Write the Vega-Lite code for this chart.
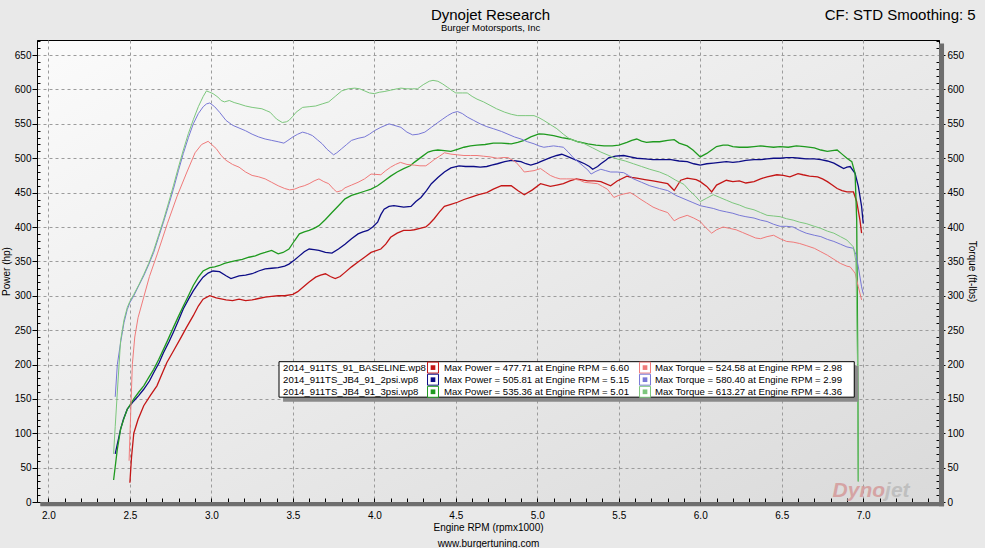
{
"$schema":"https://vega.github.io/schema/vega-lite/v6.json",
"width":902,"height":462,
"autosize":"none",
"padding":{"left":37,"top":40,"right":46,"bottom":46},
"background":"#e9e9e9",
"config":{"view":{"stroke":"#000","strokeWidth":1,"fill":{"gradient":"linear","x1":0,"y1":0,"x2":1,"y2":1,"stops":[{"offset":0,"color":"#fbfbfb"},{"offset":1,"color":"#dadada"}]}},"font":"Liberation Sans"},
"datasets":{
"legend":[
{"slot":1,"run":"BASELINE","file":"2014_911TS_91_BASELINE.wp8","powerText":"Max Power = 477.71 at Engine RPM = 6.60","torqueText":"Max Torque = 524.58 at Engine RPM = 2.98"},
{"slot":2,"run":"2psi","file":"2014_911TS_JB4_91_2psi.wp8","powerText":"Max Power = 505.81 at Engine RPM = 5.15","torqueText":"Max Torque = 580.40 at Engine RPM = 2.99"},
{"slot":3,"run":"3psi","file":"2014_911TS_JB4_91_3psi.wp8","powerText":"Max Power = 535.36 at Engine RPM = 5.01","torqueText":"Max Torque = 613.27 at Engine RPM = 4.36"}
],
"headings":[
{"label":"Dynojet Research","part":"title"},
{"label":"Burger Motorsports, Inc","part":"subtitle"},
{"label":"CF: STD Smoothing: 5","part":"corner"}
],
"curves":[
{"run":"BASELINE","measure":"Power","rpm":2.50,"value":28},{"run":"BASELINE","measure":"Power","rpm":2.51,"value":65},{"run":"BASELINE","measure":"Power","rpm":2.524,"value":100},{"run":"BASELINE","measure":"Power","rpm":2.55,"value":120},{"run":"BASELINE","measure":"Power","rpm":2.585,"value":140},{"run":"BASELINE","measure":"Power","rpm":2.626,"value":155},{"run":"BASELINE","measure":"Power","rpm":2.666,"value":169},{"run":"BASELINE","measure":"Power","rpm":2.70,"value":188},{"run":"BASELINE","measure":"Power","rpm":2.727,"value":203},{"run":"BASELINE","measure":"Power","rpm":2.768,"value":220},{"run":"BASELINE","measure":"Power","rpm":2.808,"value":237},{"run":"BASELINE","measure":"Power","rpm":2.85,"value":255},{"run":"BASELINE","measure":"Power","rpm":2.889,"value":271},{"run":"BASELINE","measure":"Power","rpm":2.92,"value":285},{"run":"BASELINE","measure":"Power","rpm":2.949,"value":295},{"run":"BASELINE","measure":"Power","rpm":2.99,"value":300},{"run":"BASELINE","measure":"Power","rpm":3.03,"value":297},{"run":"BASELINE","measure":"Power","rpm":3.09,"value":294},{"run":"BASELINE","measure":"Power","rpm":3.13,"value":293},{"run":"BASELINE","measure":"Power","rpm":3.17,"value":295},{"run":"BASELINE","measure":"Power","rpm":3.21,"value":293},{"run":"BASELINE","measure":"Power","rpm":3.25,"value":294},{"run":"BASELINE","measure":"Power","rpm":3.29,"value":296},{"run":"BASELINE","measure":"Power","rpm":3.33,"value":298},{"run":"BASELINE","measure":"Power","rpm":3.37,"value":299},{"run":"BASELINE","measure":"Power","rpm":3.41,"value":300},{"run":"BASELINE","measure":"Power","rpm":3.45,"value":300},{"run":"BASELINE","measure":"Power","rpm":3.50,"value":302},{"run":"BASELINE","measure":"Power","rpm":3.53,"value":306},{"run":"BASELINE","measure":"Power","rpm":3.56,"value":312},{"run":"BASELINE","measure":"Power","rpm":3.60,"value":320},{"run":"BASELINE","measure":"Power","rpm":3.64,"value":327},{"run":"BASELINE","measure":"Power","rpm":3.67,"value":330},{"run":"BASELINE","measure":"Power","rpm":3.70,"value":332},{"run":"BASELINE","measure":"Power","rpm":3.73,"value":328},{"run":"BASELINE","measure":"Power","rpm":3.76,"value":325},{"run":"BASELINE","measure":"Power","rpm":3.79,"value":328},{"run":"BASELINE","measure":"Power","rpm":3.82,"value":334},{"run":"BASELINE","measure":"Power","rpm":3.86,"value":342},{"run":"BASELINE","measure":"Power","rpm":3.90,"value":349},{"run":"BASELINE","measure":"Power","rpm":3.94,"value":356},{"run":"BASELINE","measure":"Power","rpm":3.98,"value":363},{"run":"BASELINE","measure":"Power","rpm":4.04,"value":368},{"run":"BASELINE","measure":"Power","rpm":4.07,"value":375},{"run":"BASELINE","measure":"Power","rpm":4.10,"value":385},{"run":"BASELINE","measure":"Power","rpm":4.14,"value":391},{"run":"BASELINE","measure":"Power","rpm":4.18,"value":395},{"run":"BASELINE","measure":"Power","rpm":4.22,"value":395},{"run":"BASELINE","measure":"Power","rpm":4.245,"value":396},{"run":"BASELINE","measure":"Power","rpm":4.28,"value":398},{"run":"BASELINE","measure":"Power","rpm":4.316,"value":400},{"run":"BASELINE","measure":"Power","rpm":4.34,"value":405},{"run":"BASELINE","measure":"Power","rpm":4.367,"value":412},{"run":"BASELINE","measure":"Power","rpm":4.40,"value":422},{"run":"BASELINE","measure":"Power","rpm":4.43,"value":430},{"run":"BASELINE","measure":"Power","rpm":4.47,"value":433},{"run":"BASELINE","measure":"Power","rpm":4.51,"value":436},{"run":"BASELINE","measure":"Power","rpm":4.55,"value":440},{"run":"BASELINE","measure":"Power","rpm":4.59,"value":443},{"run":"BASELINE","measure":"Power","rpm":4.64,"value":447},{"run":"BASELINE","measure":"Power","rpm":4.69,"value":450},{"run":"BASELINE","measure":"Power","rpm":4.73,"value":455},{"run":"BASELINE","measure":"Power","rpm":4.78,"value":460},{"run":"BASELINE","measure":"Power","rpm":4.84,"value":460},{"run":"BASELINE","measure":"Power","rpm":4.88,"value":453},{"run":"BASELINE","measure":"Power","rpm":4.92,"value":447},{"run":"BASELINE","measure":"Power","rpm":4.97,"value":454},{"run":"BASELINE","measure":"Power","rpm":5.02,"value":463},{"run":"BASELINE","measure":"Power","rpm":5.08,"value":459},{"run":"BASELINE","measure":"Power","rpm":5.12,"value":461},{"run":"BASELINE","measure":"Power","rpm":5.16,"value":463},{"run":"BASELINE","measure":"Power","rpm":5.20,"value":467},{"run":"BASELINE","measure":"Power","rpm":5.24,"value":470},{"run":"BASELINE","measure":"Power","rpm":5.31,"value":467},{"run":"BASELINE","measure":"Power","rpm":5.35,"value":467},{"run":"BASELINE","measure":"Power","rpm":5.39,"value":466},{"run":"BASELINE","measure":"Power","rpm":5.45,"value":460},{"run":"BASELINE","measure":"Power","rpm":5.49,"value":467},{"run":"BASELINE","measure":"Power","rpm":5.55,"value":474},{"run":"BASELINE","measure":"Power","rpm":5.58,"value":472},{"run":"BASELINE","measure":"Power","rpm":5.61,"value":471},{"run":"BASELINE","measure":"Power","rpm":5.66,"value":469},{"run":"BASELINE","measure":"Power","rpm":5.71,"value":467},{"run":"BASELINE","measure":"Power","rpm":5.76,"value":465},{"run":"BASELINE","measure":"Power","rpm":5.80,"value":463},{"run":"BASELINE","measure":"Power","rpm":5.84,"value":453},{"run":"BASELINE","measure":"Power","rpm":5.88,"value":468},{"run":"BASELINE","measure":"Power","rpm":5.92,"value":471},{"run":"BASELINE","measure":"Power","rpm":5.975,"value":469},{"run":"BASELINE","measure":"Power","rpm":6.0,"value":466},{"run":"BASELINE","measure":"Power","rpm":6.04,"value":459},{"run":"BASELINE","measure":"Power","rpm":6.07,"value":451},{"run":"BASELINE","measure":"Power","rpm":6.10,"value":461},{"run":"BASELINE","measure":"Power","rpm":6.16,"value":468},{"run":"BASELINE","measure":"Power","rpm":6.20,"value":466},{"run":"BASELINE","measure":"Power","rpm":6.24,"value":467},{"run":"BASELINE","measure":"Power","rpm":6.28,"value":464},{"run":"BASELINE","measure":"Power","rpm":6.33,"value":466},{"run":"BASELINE","measure":"Power","rpm":6.37,"value":470},{"run":"BASELINE","measure":"Power","rpm":6.41,"value":473},{"run":"BASELINE","measure":"Power","rpm":6.47,"value":476},{"run":"BASELINE","measure":"Power","rpm":6.51,"value":475},{"run":"BASELINE","measure":"Power","rpm":6.55,"value":473},{"run":"BASELINE","measure":"Power","rpm":6.60,"value":477.7},{"run":"BASELINE","measure":"Power","rpm":6.63,"value":476},{"run":"BASELINE","measure":"Power","rpm":6.67,"value":474},{"run":"BASELINE","measure":"Power","rpm":6.72,"value":473},{"run":"BASELINE","measure":"Power","rpm":6.75,"value":470},{"run":"BASELINE","measure":"Power","rpm":6.78,"value":466},{"run":"BASELINE","measure":"Power","rpm":6.81,"value":461},{"run":"BASELINE","measure":"Power","rpm":6.84,"value":456},{"run":"BASELINE","measure":"Power","rpm":6.87,"value":453},{"run":"BASELINE","measure":"Power","rpm":6.90,"value":451},{"run":"BASELINE","measure":"Power","rpm":6.94,"value":451},{"run":"BASELINE","measure":"Power","rpm":6.96,"value":437},{"run":"BASELINE","measure":"Power","rpm":6.98,"value":410},{"run":"BASELINE","measure":"Power","rpm":6.99,"value":391},

{"run":"BASELINE","measure":"Torque","rpm":2.495,"value":60},{"run":"BASELINE","measure":"Torque","rpm":2.505,"value":130},{"run":"BASELINE","measure":"Torque","rpm":2.515,"value":200},{"run":"BASELINE","measure":"Torque","rpm":2.53,"value":240},{"run":"BASELINE","measure":"Torque","rpm":2.55,"value":268},{"run":"BASELINE","measure":"Torque","rpm":2.585,"value":298},{"run":"BASELINE","measure":"Torque","rpm":2.62,"value":328},{"run":"BASELINE","measure":"Torque","rpm":2.67,"value":362},{"run":"BASELINE","measure":"Torque","rpm":2.73,"value":405},{"run":"BASELINE","measure":"Torque","rpm":2.79,"value":445},{"run":"BASELINE","measure":"Torque","rpm":2.85,"value":480},{"run":"BASELINE","measure":"Torque","rpm":2.90,"value":508},{"run":"BASELINE","measure":"Torque","rpm":2.94,"value":520},{"run":"BASELINE","measure":"Torque","rpm":2.98,"value":524.6},{"run":"BASELINE","measure":"Torque","rpm":3.03,"value":514},{"run":"BASELINE","measure":"Torque","rpm":3.06,"value":504},{"run":"BASELINE","measure":"Torque","rpm":3.09,"value":497},{"run":"BASELINE","measure":"Torque","rpm":3.13,"value":491},{"run":"BASELINE","measure":"Torque","rpm":3.17,"value":487},{"run":"BASELINE","measure":"Torque","rpm":3.21,"value":480},{"run":"BASELINE","measure":"Torque","rpm":3.25,"value":475},{"run":"BASELINE","measure":"Torque","rpm":3.29,"value":473},{"run":"BASELINE","measure":"Torque","rpm":3.33,"value":470},{"run":"BASELINE","measure":"Torque","rpm":3.37,"value":465},{"run":"BASELINE","measure":"Torque","rpm":3.41,"value":460},{"run":"BASELINE","measure":"Torque","rpm":3.45,"value":456},{"run":"BASELINE","measure":"Torque","rpm":3.48,"value":454},{"run":"BASELINE","measure":"Torque","rpm":3.51,"value":455},{"run":"BASELINE","measure":"Torque","rpm":3.54,"value":458},{"run":"BASELINE","measure":"Torque","rpm":3.57,"value":460},{"run":"BASELINE","measure":"Torque","rpm":3.60,"value":463},{"run":"BASELINE","measure":"Torque","rpm":3.63,"value":467},{"run":"BASELINE","measure":"Torque","rpm":3.66,"value":470},{"run":"BASELINE","measure":"Torque","rpm":3.69,"value":466},{"run":"BASELINE","measure":"Torque","rpm":3.72,"value":463},{"run":"BASELINE","measure":"Torque","rpm":3.75,"value":455},{"run":"BASELINE","measure":"Torque","rpm":3.77,"value":451},{"run":"BASELINE","measure":"Torque","rpm":3.80,"value":453},{"run":"BASELINE","measure":"Torque","rpm":3.82,"value":457},{"run":"BASELINE","measure":"Torque","rpm":3.86,"value":461},{"run":"BASELINE","measure":"Torque","rpm":3.90,"value":465},{"run":"BASELINE","measure":"Torque","rpm":3.94,"value":470},{"run":"BASELINE","measure":"Torque","rpm":3.98,"value":477},{"run":"BASELINE","measure":"Torque","rpm":4.04,"value":476},{"run":"BASELINE","measure":"Torque","rpm":4.07,"value":482},{"run":"BASELINE","measure":"Torque","rpm":4.10,"value":487},{"run":"BASELINE","measure":"Torque","rpm":4.13,"value":491},{"run":"BASELINE","measure":"Torque","rpm":4.16,"value":494},{"run":"BASELINE","measure":"Torque","rpm":4.20,"value":491},{"run":"BASELINE","measure":"Torque","rpm":4.245,"value":490},{"run":"BASELINE","measure":"Torque","rpm":4.28,"value":489},{"run":"BASELINE","measure":"Torque","rpm":4.316,"value":489},{"run":"BASELINE","measure":"Torque","rpm":4.34,"value":493},{"run":"BASELINE","measure":"Torque","rpm":4.367,"value":498},{"run":"BASELINE","measure":"Torque","rpm":4.40,"value":503},{"run":"BASELINE","measure":"Torque","rpm":4.43,"value":508},{"run":"BASELINE","measure":"Torque","rpm":4.47,"value":506},{"run":"BASELINE","measure":"Torque","rpm":4.51,"value":505},{"run":"BASELINE","measure":"Torque","rpm":4.55,"value":504},{"run":"BASELINE","measure":"Torque","rpm":4.59,"value":504},{"run":"BASELINE","measure":"Torque","rpm":4.63,"value":504},{"run":"BASELINE","measure":"Torque","rpm":4.67,"value":503},{"run":"BASELINE","measure":"Torque","rpm":4.71,"value":502},{"run":"BASELINE","measure":"Torque","rpm":4.755,"value":500},{"run":"BASELINE","measure":"Torque","rpm":4.79,"value":501},{"run":"BASELINE","measure":"Torque","rpm":4.82,"value":501},{"run":"BASELINE","measure":"Torque","rpm":4.85,"value":497},{"run":"BASELINE","measure":"Torque","rpm":4.87,"value":494},{"run":"BASELINE","measure":"Torque","rpm":4.90,"value":486},{"run":"BASELINE","measure":"Torque","rpm":4.92,"value":480},{"run":"BASELINE","measure":"Torque","rpm":4.95,"value":481},{"run":"BASELINE","measure":"Torque","rpm":4.98,"value":482},{"run":"BASELINE","measure":"Torque","rpm":5.02,"value":485},{"run":"BASELINE","measure":"Torque","rpm":5.05,"value":480},{"run":"BASELINE","measure":"Torque","rpm":5.08,"value":475},{"run":"BASELINE","measure":"Torque","rpm":5.11,"value":472},{"run":"BASELINE","measure":"Torque","rpm":5.14,"value":470},{"run":"BASELINE","measure":"Torque","rpm":5.18,"value":470},{"run":"BASELINE","measure":"Torque","rpm":5.22,"value":470},{"run":"BASELINE","measure":"Torque","rpm":5.26,"value":468},{"run":"BASELINE","measure":"Torque","rpm":5.29,"value":465},{"run":"BASELINE","measure":"Torque","rpm":5.33,"value":464},{"run":"BASELINE","measure":"Torque","rpm":5.37,"value":463},{"run":"BASELINE","measure":"Torque","rpm":5.40,"value":459},{"run":"BASELINE","measure":"Torque","rpm":5.43,"value":455},{"run":"BASELINE","measure":"Torque","rpm":5.45,"value":449},{"run":"BASELINE","measure":"Torque","rpm":5.47,"value":443},{"run":"BASELINE","measure":"Torque","rpm":5.50,"value":446},{"run":"BASELINE","measure":"Torque","rpm":5.53,"value":448},{"run":"BASELINE","measure":"Torque","rpm":5.57,"value":450},{"run":"BASELINE","measure":"Torque","rpm":5.60,"value":446},{"run":"BASELINE","measure":"Torque","rpm":5.63,"value":441},{"run":"BASELINE","measure":"Torque","rpm":5.67,"value":435},{"run":"BASELINE","measure":"Torque","rpm":5.71,"value":429},{"run":"BASELINE","measure":"Torque","rpm":5.75,"value":425},{"run":"BASELINE","measure":"Torque","rpm":5.80,"value":421},{"run":"BASELINE","measure":"Torque","rpm":5.82,"value":415},{"run":"BASELINE","measure":"Torque","rpm":5.84,"value":409},{"run":"BASELINE","measure":"Torque","rpm":5.87,"value":413},{"run":"BASELINE","measure":"Torque","rpm":5.92,"value":417},{"run":"BASELINE","measure":"Torque","rpm":5.96,"value":413},{"run":"BASELINE","measure":"Torque","rpm":6.0,"value":408},{"run":"BASELINE","measure":"Torque","rpm":6.03,"value":400},{"run":"BASELINE","measure":"Torque","rpm":6.07,"value":391},{"run":"BASELINE","measure":"Torque","rpm":6.10,"value":396},{"run":"BASELINE","measure":"Torque","rpm":6.14,"value":400},{"run":"BASELINE","measure":"Torque","rpm":6.18,"value":398},{"run":"BASELINE","measure":"Torque","rpm":6.22,"value":396},{"run":"BASELINE","measure":"Torque","rpm":6.26,"value":392},{"run":"BASELINE","measure":"Torque","rpm":6.30,"value":388},{"run":"BASELINE","measure":"Torque","rpm":6.34,"value":384},{"run":"BASELINE","measure":"Torque","rpm":6.37,"value":383},{"run":"BASELINE","measure":"Torque","rpm":6.41,"value":386},{"run":"BASELINE","measure":"Torque","rpm":6.45,"value":388},{"run":"BASELINE","measure":"Torque","rpm":6.49,"value":383},{"run":"BASELINE","measure":"Torque","rpm":6.53,"value":379},{"run":"BASELINE","measure":"Torque","rpm":6.57,"value":378},{"run":"BASELINE","measure":"Torque","rpm":6.61,"value":376},{"run":"BASELINE","measure":"Torque","rpm":6.65,"value":373},{"run":"BASELINE","measure":"Torque","rpm":6.70,"value":369},{"run":"BASELINE","measure":"Torque","rpm":6.74,"value":364},{"run":"BASELINE","measure":"Torque","rpm":6.78,"value":359},{"run":"BASELINE","measure":"Torque","rpm":6.82,"value":353},{"run":"BASELINE","measure":"Torque","rpm":6.86,"value":347},{"run":"BASELINE","measure":"Torque","rpm":6.90,"value":343},{"run":"BASELINE","measure":"Torque","rpm":6.92,"value":342},{"run":"BASELINE","measure":"Torque","rpm":6.95,"value":333},{"run":"BASELINE","measure":"Torque","rpm":6.97,"value":313},{"run":"BASELINE","measure":"Torque","rpm":6.99,"value":294},

{"run":"2psi","measure":"Power","rpm":2.41,"value":70},{"run":"2psi","measure":"Power","rpm":2.443,"value":106},{"run":"2psi","measure":"Power","rpm":2.46,"value":120},{"run":"2psi","measure":"Power","rpm":2.484,"value":135},{"run":"2psi","measure":"Power","rpm":2.524,"value":147},{"run":"2psi","measure":"Power","rpm":2.555,"value":155},{"run":"2psi","measure":"Power","rpm":2.585,"value":164},{"run":"2psi","measure":"Power","rpm":2.62,"value":176},{"run":"2psi","measure":"Power","rpm":2.646,"value":188},{"run":"2psi","measure":"Power","rpm":2.68,"value":203},{"run":"2psi","measure":"Power","rpm":2.706,"value":217},{"run":"2psi","measure":"Power","rpm":2.74,"value":233},{"run":"2psi","measure":"Power","rpm":2.767,"value":247},{"run":"2psi","measure":"Power","rpm":2.80,"value":265},{"run":"2psi","measure":"Power","rpm":2.828,"value":281},{"run":"2psi","measure":"Power","rpm":2.86,"value":295},{"run":"2psi","measure":"Power","rpm":2.889,"value":307},{"run":"2psi","measure":"Power","rpm":2.92,"value":318},{"run":"2psi","measure":"Power","rpm":2.949,"value":327},{"run":"2psi","measure":"Power","rpm":2.98,"value":333},{"run":"2psi","measure":"Power","rpm":3.01,"value":336},{"run":"2psi","measure":"Power","rpm":3.05,"value":335},{"run":"2psi","measure":"Power","rpm":3.09,"value":329},{"run":"2psi","measure":"Power","rpm":3.12,"value":325},{"run":"2psi","measure":"Power","rpm":3.17,"value":329},{"run":"2psi","measure":"Power","rpm":3.21,"value":330},{"run":"2psi","measure":"Power","rpm":3.25,"value":332},{"run":"2psi","measure":"Power","rpm":3.29,"value":336},{"run":"2psi","measure":"Power","rpm":3.33,"value":339},{"run":"2psi","measure":"Power","rpm":3.37,"value":340},{"run":"2psi","measure":"Power","rpm":3.41,"value":341},{"run":"2psi","measure":"Power","rpm":3.45,"value":343},{"run":"2psi","measure":"Power","rpm":3.476,"value":346},{"run":"2psi","measure":"Power","rpm":3.51,"value":352},{"run":"2psi","measure":"Power","rpm":3.54,"value":358},{"run":"2psi","measure":"Power","rpm":3.57,"value":364},{"run":"2psi","measure":"Power","rpm":3.60,"value":368},{"run":"2psi","measure":"Power","rpm":3.63,"value":367},{"run":"2psi","measure":"Power","rpm":3.66,"value":366},{"run":"2psi","measure":"Power","rpm":3.70,"value":363},{"run":"2psi","measure":"Power","rpm":3.74,"value":362},{"run":"2psi","measure":"Power","rpm":3.78,"value":368},{"run":"2psi","measure":"Power","rpm":3.82,"value":375},{"run":"2psi","measure":"Power","rpm":3.86,"value":383},{"run":"2psi","measure":"Power","rpm":3.90,"value":390},{"run":"2psi","measure":"Power","rpm":3.93,"value":393},{"run":"2psi","measure":"Power","rpm":3.96,"value":395},{"run":"2psi","measure":"Power","rpm":3.99,"value":400},{"run":"2psi","measure":"Power","rpm":4.02,"value":407},{"run":"2psi","measure":"Power","rpm":4.04,"value":418},{"run":"2psi","measure":"Power","rpm":4.06,"value":426},{"run":"2psi","measure":"Power","rpm":4.09,"value":430},{"run":"2psi","measure":"Power","rpm":4.12,"value":431},{"run":"2psi","measure":"Power","rpm":4.15,"value":430},{"run":"2psi","measure":"Power","rpm":4.18,"value":429},{"run":"2psi","measure":"Power","rpm":4.225,"value":430},{"run":"2psi","measure":"Power","rpm":4.255,"value":437},{"run":"2psi","measure":"Power","rpm":4.286,"value":443},{"run":"2psi","measure":"Power","rpm":4.32,"value":453},{"run":"2psi","measure":"Power","rpm":4.35,"value":463},{"run":"2psi","measure":"Power","rpm":4.39,"value":472},{"run":"2psi","measure":"Power","rpm":4.43,"value":480},{"run":"2psi","measure":"Power","rpm":4.47,"value":486},{"run":"2psi","measure":"Power","rpm":4.52,"value":489},{"run":"2psi","measure":"Power","rpm":4.56,"value":488},{"run":"2psi","measure":"Power","rpm":4.61,"value":488},{"run":"2psi","measure":"Power","rpm":4.65,"value":487},{"run":"2psi","measure":"Power","rpm":4.69,"value":488},{"run":"2psi","measure":"Power","rpm":4.72,"value":490},{"run":"2psi","measure":"Power","rpm":4.755,"value":492},{"run":"2psi","measure":"Power","rpm":4.80,"value":495},{"run":"2psi","measure":"Power","rpm":4.84,"value":497},{"run":"2psi","measure":"Power","rpm":4.87,"value":496},{"run":"2psi","measure":"Power","rpm":4.90,"value":495},{"run":"2psi","measure":"Power","rpm":4.93,"value":492},{"run":"2psi","measure":"Power","rpm":4.96,"value":490},{"run":"2psi","measure":"Power","rpm":5.00,"value":493},{"run":"2psi","measure":"Power","rpm":5.02,"value":495},{"run":"2psi","measure":"Power","rpm":5.05,"value":498},{"run":"2psi","measure":"Power","rpm":5.08,"value":501},{"run":"2psi","measure":"Power","rpm":5.12,"value":504},{"run":"2psi","measure":"Power","rpm":5.15,"value":505.8},{"run":"2psi","measure":"Power","rpm":5.18,"value":503},{"run":"2psi","measure":"Power","rpm":5.22,"value":499},{"run":"2psi","measure":"Power","rpm":5.26,"value":495},{"run":"2psi","measure":"Power","rpm":5.29,"value":492},{"run":"2psi","measure":"Power","rpm":5.32,"value":488},{"run":"2psi","measure":"Power","rpm":5.34,"value":484},{"run":"2psi","measure":"Power","rpm":5.37,"value":488},{"run":"2psi","measure":"Power","rpm":5.39,"value":492},{"run":"2psi","measure":"Power","rpm":5.42,"value":497},{"run":"2psi","measure":"Power","rpm":5.44,"value":501},{"run":"2psi","measure":"Power","rpm":5.48,"value":503},{"run":"2psi","measure":"Power","rpm":5.53,"value":504},{"run":"2psi","measure":"Power","rpm":5.57,"value":502},{"run":"2psi","measure":"Power","rpm":5.61,"value":500},{"run":"2psi","measure":"Power","rpm":5.66,"value":499},{"run":"2psi","measure":"Power","rpm":5.71,"value":498},{"run":"2psi","measure":"Power","rpm":5.76,"value":498},{"run":"2psi","measure":"Power","rpm":5.82,"value":498},{"run":"2psi","measure":"Power","rpm":5.87,"value":496},{"run":"2psi","measure":"Power","rpm":5.92,"value":495},{"run":"2psi","measure":"Power","rpm":5.96,"value":492},{"run":"2psi","measure":"Power","rpm":6.0,"value":490},{"run":"2psi","measure":"Power","rpm":6.04,"value":492},{"run":"2psi","measure":"Power","rpm":6.08,"value":493},{"run":"2psi","measure":"Power","rpm":6.12,"value":494},{"run":"2psi","measure":"Power","rpm":6.16,"value":495},{"run":"2psi","measure":"Power","rpm":6.20,"value":494},{"run":"2psi","measure":"Power","rpm":6.24,"value":495},{"run":"2psi","measure":"Power","rpm":6.28,"value":497},{"run":"2psi","measure":"Power","rpm":6.33,"value":498},{"run":"2psi","measure":"Power","rpm":6.37,"value":498},{"run":"2psi","measure":"Power","rpm":6.41,"value":499},{"run":"2psi","measure":"Power","rpm":6.45,"value":500},{"run":"2psi","measure":"Power","rpm":6.49,"value":500},{"run":"2psi","measure":"Power","rpm":6.53,"value":501},{"run":"2psi","measure":"Power","rpm":6.57,"value":501},{"run":"2psi","measure":"Power","rpm":6.61,"value":500},{"run":"2psi","measure":"Power","rpm":6.65,"value":499},{"run":"2psi","measure":"Power","rpm":6.70,"value":499},{"run":"2psi","measure":"Power","rpm":6.74,"value":498},{"run":"2psi","measure":"Power","rpm":6.78,"value":496},{"run":"2psi","measure":"Power","rpm":6.82,"value":493},{"run":"2psi","measure":"Power","rpm":6.85,"value":489},{"run":"2psi","measure":"Power","rpm":6.88,"value":485},{"run":"2psi","measure":"Power","rpm":6.90,"value":487},{"run":"2psi","measure":"Power","rpm":6.92,"value":488},{"run":"2psi","measure":"Power","rpm":6.95,"value":478},{"run":"2psi","measure":"Power","rpm":6.97,"value":459},{"run":"2psi","measure":"Power","rpm":6.99,"value":430},{"run":"2psi","measure":"Power","rpm":7.00,"value":405},

{"run":"2psi","measure":"Torque","rpm":2.41,"value":153},{"run":"2psi","measure":"Torque","rpm":2.423,"value":200},{"run":"2psi","measure":"Torque","rpm":2.443,"value":232},{"run":"2psi","measure":"Torque","rpm":2.464,"value":261},{"run":"2psi","measure":"Torque","rpm":2.484,"value":280},{"run":"2psi","measure":"Torque","rpm":2.50,"value":290},{"run":"2psi","measure":"Torque","rpm":2.524,"value":300},{"run":"2psi","measure":"Torque","rpm":2.555,"value":315},{"run":"2psi","measure":"Torque","rpm":2.585,"value":329},{"run":"2psi","measure":"Torque","rpm":2.615,"value":345},{"run":"2psi","measure":"Torque","rpm":2.646,"value":363},{"run":"2psi","measure":"Torque","rpm":2.676,"value":385},{"run":"2psi","measure":"Torque","rpm":2.706,"value":407},{"run":"2psi","measure":"Torque","rpm":2.737,"value":431},{"run":"2psi","measure":"Torque","rpm":2.767,"value":455},{"run":"2psi","measure":"Torque","rpm":2.798,"value":482},{"run":"2psi","measure":"Torque","rpm":2.828,"value":507},{"run":"2psi","measure":"Torque","rpm":2.859,"value":530},{"run":"2psi","measure":"Torque","rpm":2.889,"value":550},{"run":"2psi","measure":"Torque","rpm":2.92,"value":565},{"run":"2psi","measure":"Torque","rpm":2.95,"value":575},{"run":"2psi","measure":"Torque","rpm":2.97,"value":579},{"run":"2psi","measure":"Torque","rpm":2.99,"value":580.4},{"run":"2psi","measure":"Torque","rpm":3.02,"value":575},{"run":"2psi","measure":"Torque","rpm":3.05,"value":567},{"run":"2psi","measure":"Torque","rpm":3.09,"value":555},{"run":"2psi","measure":"Torque","rpm":3.13,"value":548},{"run":"2psi","measure":"Torque","rpm":3.17,"value":544},{"run":"2psi","measure":"Torque","rpm":3.21,"value":540},{"run":"2psi","measure":"Torque","rpm":3.25,"value":535},{"run":"2psi","measure":"Torque","rpm":3.29,"value":531},{"run":"2psi","measure":"Torque","rpm":3.33,"value":528},{"run":"2psi","measure":"Torque","rpm":3.37,"value":526},{"run":"2psi","measure":"Torque","rpm":3.41,"value":524},{"run":"2psi","measure":"Torque","rpm":3.445,"value":522},{"run":"2psi","measure":"Torque","rpm":3.47,"value":526},{"run":"2psi","measure":"Torque","rpm":3.50,"value":531},{"run":"2psi","measure":"Torque","rpm":3.53,"value":535},{"run":"2psi","measure":"Torque","rpm":3.56,"value":538},{"run":"2psi","measure":"Torque","rpm":3.59,"value":536},{"run":"2psi","measure":"Torque","rpm":3.62,"value":533},{"run":"2psi","measure":"Torque","rpm":3.65,"value":527},{"run":"2psi","measure":"Torque","rpm":3.68,"value":521},{"run":"2psi","measure":"Torque","rpm":3.71,"value":513},{"run":"2psi","measure":"Torque","rpm":3.75,"value":505},{"run":"2psi","measure":"Torque","rpm":3.77,"value":508},{"run":"2psi","measure":"Torque","rpm":3.80,"value":514},{"run":"2psi","measure":"Torque","rpm":3.83,"value":520},{"run":"2psi","measure":"Torque","rpm":3.86,"value":526},{"run":"2psi","measure":"Torque","rpm":3.90,"value":529},{"run":"2psi","measure":"Torque","rpm":3.94,"value":531},{"run":"2psi","measure":"Torque","rpm":3.97,"value":535},{"run":"2psi","measure":"Torque","rpm":4.00,"value":540},{"run":"2psi","measure":"Torque","rpm":4.04,"value":545},{"run":"2psi","measure":"Torque","rpm":4.09,"value":550},{"run":"2psi","measure":"Torque","rpm":4.12,"value":548},{"run":"2psi","measure":"Torque","rpm":4.163,"value":545},{"run":"2psi","measure":"Torque","rpm":4.20,"value":538},{"run":"2psi","measure":"Torque","rpm":4.235,"value":534},{"run":"2psi","measure":"Torque","rpm":4.27,"value":535},{"run":"2psi","measure":"Torque","rpm":4.31,"value":538},{"run":"2psi","measure":"Torque","rpm":4.35,"value":545},{"run":"2psi","measure":"Torque","rpm":4.39,"value":552},{"run":"2psi","measure":"Torque","rpm":4.42,"value":557},{"run":"2psi","measure":"Torque","rpm":4.45,"value":562},{"run":"2psi","measure":"Torque","rpm":4.48,"value":566},{"run":"2psi","measure":"Torque","rpm":4.51,"value":568},{"run":"2psi","measure":"Torque","rpm":4.54,"value":565},{"run":"2psi","measure":"Torque","rpm":4.57,"value":560},{"run":"2psi","measure":"Torque","rpm":4.61,"value":555},{"run":"2psi","measure":"Torque","rpm":4.65,"value":550},{"run":"2psi","measure":"Torque","rpm":4.69,"value":546},{"run":"2psi","measure":"Torque","rpm":4.73,"value":543},{"run":"2psi","measure":"Torque","rpm":4.78,"value":539},{"run":"2psi","measure":"Torque","rpm":4.82,"value":535},{"run":"2psi","measure":"Torque","rpm":4.86,"value":531},{"run":"2psi","measure":"Torque","rpm":4.90,"value":528},{"run":"2psi","measure":"Torque","rpm":4.94,"value":524},{"run":"2psi","measure":"Torque","rpm":4.98,"value":521},{"run":"2psi","measure":"Torque","rpm":5.01,"value":518},{"run":"2psi","measure":"Torque","rpm":5.04,"value":516},{"run":"2psi","measure":"Torque","rpm":5.07,"value":517},{"run":"2psi","measure":"Torque","rpm":5.10,"value":518},{"run":"2psi","measure":"Torque","rpm":5.13,"value":517},{"run":"2psi","measure":"Torque","rpm":5.16,"value":516},{"run":"2psi","measure":"Torque","rpm":5.19,"value":509},{"run":"2psi","measure":"Torque","rpm":5.22,"value":501},{"run":"2psi","measure":"Torque","rpm":5.25,"value":495},{"run":"2psi","measure":"Torque","rpm":5.28,"value":489},{"run":"2psi","measure":"Torque","rpm":5.31,"value":483},{"run":"2psi","measure":"Torque","rpm":5.33,"value":477},{"run":"2psi","measure":"Torque","rpm":5.36,"value":481},{"run":"2psi","measure":"Torque","rpm":5.39,"value":484},{"run":"2psi","measure":"Torque","rpm":5.42,"value":482},{"run":"2psi","measure":"Torque","rpm":5.45,"value":480},{"run":"2psi","measure":"Torque","rpm":5.49,"value":480},{"run":"2psi","measure":"Torque","rpm":5.53,"value":479},{"run":"2psi","measure":"Torque","rpm":5.56,"value":475},{"run":"2psi","measure":"Torque","rpm":5.59,"value":470},{"run":"2psi","measure":"Torque","rpm":5.64,"value":465},{"run":"2psi","measure":"Torque","rpm":5.69,"value":460},{"run":"2psi","measure":"Torque","rpm":5.75,"value":456},{"run":"2psi","measure":"Torque","rpm":5.80,"value":453},{"run":"2psi","measure":"Torque","rpm":5.85,"value":446},{"run":"2psi","measure":"Torque","rpm":5.90,"value":441},{"run":"2psi","measure":"Torque","rpm":5.95,"value":436},{"run":"2psi","measure":"Torque","rpm":6.0,"value":431},{"run":"2psi","measure":"Torque","rpm":6.04,"value":429},{"run":"2psi","measure":"Torque","rpm":6.08,"value":427},{"run":"2psi","measure":"Torque","rpm":6.12,"value":424},{"run":"2psi","measure":"Torque","rpm":6.16,"value":422},{"run":"2psi","measure":"Torque","rpm":6.20,"value":420},{"run":"2psi","measure":"Torque","rpm":6.24,"value":417},{"run":"2psi","measure":"Torque","rpm":6.28,"value":415},{"run":"2psi","measure":"Torque","rpm":6.33,"value":413},{"run":"2psi","measure":"Torque","rpm":6.37,"value":410},{"run":"2psi","measure":"Torque","rpm":6.41,"value":408},{"run":"2psi","measure":"Torque","rpm":6.45,"value":404},{"run":"2psi","measure":"Torque","rpm":6.49,"value":401},{"run":"2psi","measure":"Torque","rpm":6.53,"value":401},{"run":"2psi","measure":"Torque","rpm":6.57,"value":400},{"run":"2psi","measure":"Torque","rpm":6.61,"value":395},{"run":"2psi","measure":"Torque","rpm":6.65,"value":391},{"run":"2psi","measure":"Torque","rpm":6.70,"value":388},{"run":"2psi","measure":"Torque","rpm":6.74,"value":386},{"run":"2psi","measure":"Torque","rpm":6.78,"value":382},{"run":"2psi","measure":"Torque","rpm":6.82,"value":379},{"run":"2psi","measure":"Torque","rpm":6.86,"value":375},{"run":"2psi","measure":"Torque","rpm":6.90,"value":371},{"run":"2psi","measure":"Torque","rpm":6.94,"value":369},{"run":"2psi","measure":"Torque","rpm":6.955,"value":360},{"run":"2psi","measure":"Torque","rpm":6.97,"value":342},{"run":"2psi","measure":"Torque","rpm":6.99,"value":313},{"run":"2psi","measure":"Torque","rpm":7.00,"value":303},

{"run":"3psi","measure":"Power","rpm":2.40,"value":32},{"run":"3psi","measure":"Power","rpm":2.423,"value":77},{"run":"3psi","measure":"Power","rpm":2.443,"value":106},{"run":"3psi","measure":"Power","rpm":2.464,"value":122},{"run":"3psi","measure":"Power","rpm":2.484,"value":135},{"run":"3psi","measure":"Power","rpm":2.524,"value":150},{"run":"3psi","measure":"Power","rpm":2.555,"value":160},{"run":"3psi","measure":"Power","rpm":2.585,"value":169},{"run":"3psi","measure":"Power","rpm":2.615,"value":181},{"run":"3psi","measure":"Power","rpm":2.646,"value":193},{"run":"3psi","measure":"Power","rpm":2.676,"value":207},{"run":"3psi","measure":"Power","rpm":2.706,"value":222},{"run":"3psi","measure":"Power","rpm":2.737,"value":238},{"run":"3psi","measure":"Power","rpm":2.767,"value":254},{"run":"3psi","measure":"Power","rpm":2.798,"value":270},{"run":"3psi","measure":"Power","rpm":2.828,"value":285},{"run":"3psi","measure":"Power","rpm":2.859,"value":300},{"run":"3psi","measure":"Power","rpm":2.889,"value":315},{"run":"3psi","measure":"Power","rpm":2.92,"value":327},{"run":"3psi","measure":"Power","rpm":2.949,"value":336},{"run":"3psi","measure":"Power","rpm":2.99,"value":341},{"run":"3psi","measure":"Power","rpm":3.02,"value":342},{"run":"3psi","measure":"Power","rpm":3.05,"value":344},{"run":"3psi","measure":"Power","rpm":3.08,"value":347},{"run":"3psi","measure":"Power","rpm":3.11,"value":349},{"run":"3psi","measure":"Power","rpm":3.15,"value":351},{"run":"3psi","measure":"Power","rpm":3.19,"value":353},{"run":"3psi","measure":"Power","rpm":3.23,"value":356},{"run":"3psi","measure":"Power","rpm":3.27,"value":358},{"run":"3psi","measure":"Power","rpm":3.30,"value":361},{"run":"3psi","measure":"Power","rpm":3.33,"value":363},{"run":"3psi","measure":"Power","rpm":3.37,"value":366},{"run":"3psi","measure":"Power","rpm":3.41,"value":361},{"run":"3psi","measure":"Power","rpm":3.44,"value":363},{"run":"3psi","measure":"Power","rpm":3.476,"value":368},{"run":"3psi","measure":"Power","rpm":3.51,"value":380},{"run":"3psi","measure":"Power","rpm":3.54,"value":390},{"run":"3psi","measure":"Power","rpm":3.57,"value":393},{"run":"3psi","measure":"Power","rpm":3.60,"value":395},{"run":"3psi","measure":"Power","rpm":3.63,"value":398},{"run":"3psi","measure":"Power","rpm":3.66,"value":402},{"run":"3psi","measure":"Power","rpm":3.70,"value":411},{"run":"3psi","measure":"Power","rpm":3.74,"value":421},{"run":"3psi","measure":"Power","rpm":3.78,"value":431},{"run":"3psi","measure":"Power","rpm":3.82,"value":441},{"run":"3psi","measure":"Power","rpm":3.86,"value":446},{"run":"3psi","measure":"Power","rpm":3.90,"value":449},{"run":"3psi","measure":"Power","rpm":3.94,"value":452},{"run":"3psi","measure":"Power","rpm":3.98,"value":455},{"run":"3psi","measure":"Power","rpm":4.02,"value":460},{"run":"3psi","measure":"Power","rpm":4.06,"value":467},{"run":"3psi","measure":"Power","rpm":4.10,"value":474},{"run":"3psi","measure":"Power","rpm":4.14,"value":480},{"run":"3psi","measure":"Power","rpm":4.18,"value":485},{"run":"3psi","measure":"Power","rpm":4.22,"value":489},{"run":"3psi","measure":"Power","rpm":4.245,"value":494},{"run":"3psi","measure":"Power","rpm":4.29,"value":502},{"run":"3psi","measure":"Power","rpm":4.33,"value":509},{"run":"3psi","measure":"Power","rpm":4.36,"value":511},{"run":"3psi","measure":"Power","rpm":4.39,"value":512},{"run":"3psi","measure":"Power","rpm":4.43,"value":511},{"run":"3psi","measure":"Power","rpm":4.47,"value":510},{"run":"3psi","measure":"Power","rpm":4.51,"value":513},{"run":"3psi","measure":"Power","rpm":4.55,"value":516},{"run":"3psi","measure":"Power","rpm":4.59,"value":518},{"run":"3psi","measure":"Power","rpm":4.63,"value":519},{"run":"3psi","measure":"Power","rpm":4.68,"value":520},{"run":"3psi","measure":"Power","rpm":4.73,"value":522},{"run":"3psi","measure":"Power","rpm":4.78,"value":522},{"run":"3psi","measure":"Power","rpm":4.84,"value":521},{"run":"3psi","measure":"Power","rpm":4.88,"value":523},{"run":"3psi","measure":"Power","rpm":4.92,"value":526},{"run":"3psi","measure":"Power","rpm":4.96,"value":531},{"run":"3psi","measure":"Power","rpm":5.01,"value":535.4},{"run":"3psi","measure":"Power","rpm":5.04,"value":535},{"run":"3psi","measure":"Power","rpm":5.07,"value":534},{"run":"3psi","measure":"Power","rpm":5.10,"value":533},{"run":"3psi","measure":"Power","rpm":5.15,"value":530},{"run":"3psi","measure":"Power","rpm":5.20,"value":528},{"run":"3psi","measure":"Power","rpm":5.25,"value":524},{"run":"3psi","measure":"Power","rpm":5.31,"value":521},{"run":"3psi","measure":"Power","rpm":5.36,"value":519},{"run":"3psi","measure":"Power","rpm":5.41,"value":518},{"run":"3psi","measure":"Power","rpm":5.46,"value":518},{"run":"3psi","measure":"Power","rpm":5.50,"value":519},{"run":"3psi","measure":"Power","rpm":5.55,"value":523},{"run":"3psi","measure":"Power","rpm":5.58,"value":526},{"run":"3psi","measure":"Power","rpm":5.61,"value":528},{"run":"3psi","measure":"Power","rpm":5.64,"value":525},{"run":"3psi","measure":"Power","rpm":5.67,"value":523},{"run":"3psi","measure":"Power","rpm":5.71,"value":524},{"run":"3psi","measure":"Power","rpm":5.75,"value":524},{"run":"3psi","measure":"Power","rpm":5.80,"value":526},{"run":"3psi","measure":"Power","rpm":5.84,"value":527},{"run":"3psi","measure":"Power","rpm":5.87,"value":522},{"run":"3psi","measure":"Power","rpm":5.92,"value":518},{"run":"3psi","measure":"Power","rpm":5.955,"value":512},{"run":"3psi","measure":"Power","rpm":6.0,"value":502},{"run":"3psi","measure":"Power","rpm":6.04,"value":507},{"run":"3psi","measure":"Power","rpm":6.07,"value":512},{"run":"3psi","measure":"Power","rpm":6.10,"value":517},{"run":"3psi","measure":"Power","rpm":6.14,"value":519},{"run":"3psi","measure":"Power","rpm":6.17,"value":519},{"run":"3psi","measure":"Power","rpm":6.20,"value":517},{"run":"3psi","measure":"Power","rpm":6.24,"value":516},{"run":"3psi","measure":"Power","rpm":6.29,"value":516},{"run":"3psi","measure":"Power","rpm":6.33,"value":517},{"run":"3psi","measure":"Power","rpm":6.37,"value":518},{"run":"3psi","measure":"Power","rpm":6.41,"value":517},{"run":"3psi","measure":"Power","rpm":6.45,"value":516},{"run":"3psi","measure":"Power","rpm":6.49,"value":517},{"run":"3psi","measure":"Power","rpm":6.54,"value":516},{"run":"3psi","measure":"Power","rpm":6.59,"value":518},{"run":"3psi","measure":"Power","rpm":6.64,"value":517},{"run":"3psi","measure":"Power","rpm":6.70,"value":515},{"run":"3psi","measure":"Power","rpm":6.74,"value":512},{"run":"3psi","measure":"Power","rpm":6.78,"value":510},{"run":"3psi","measure":"Power","rpm":6.81,"value":511},{"run":"3psi","measure":"Power","rpm":6.84,"value":512},{"run":"3psi","measure":"Power","rpm":6.87,"value":506},{"run":"3psi","measure":"Power","rpm":6.90,"value":500},{"run":"3psi","measure":"Power","rpm":6.93,"value":495},{"run":"3psi","measure":"Power","rpm":6.95,"value":478},{"run":"3psi","measure":"Power","rpm":6.96,"value":410},{"run":"3psi","measure":"Power","rpm":6.965,"value":250},{"run":"3psi","measure":"Power","rpm":6.97,"value":30},

{"run":"3psi","measure":"Torque","rpm":2.40,"value":70},{"run":"3psi","measure":"Torque","rpm":2.41,"value":110},{"run":"3psi","measure":"Torque","rpm":2.423,"value":160},{"run":"3psi","measure":"Torque","rpm":2.443,"value":235},{"run":"3psi","measure":"Torque","rpm":2.464,"value":265},{"run":"3psi","measure":"Torque","rpm":2.484,"value":283},{"run":"3psi","measure":"Torque","rpm":2.50,"value":292},{"run":"3psi","measure":"Torque","rpm":2.524,"value":302},{"run":"3psi","measure":"Torque","rpm":2.555,"value":316},{"run":"3psi","measure":"Torque","rpm":2.585,"value":331},{"run":"3psi","measure":"Torque","rpm":2.615,"value":347},{"run":"3psi","measure":"Torque","rpm":2.646,"value":366},{"run":"3psi","measure":"Torque","rpm":2.676,"value":388},{"run":"3psi","measure":"Torque","rpm":2.706,"value":410},{"run":"3psi","measure":"Torque","rpm":2.737,"value":435},{"run":"3psi","measure":"Torque","rpm":2.767,"value":460},{"run":"3psi","measure":"Torque","rpm":2.798,"value":487},{"run":"3psi","measure":"Torque","rpm":2.828,"value":512},{"run":"3psi","measure":"Torque","rpm":2.859,"value":536},{"run":"3psi","measure":"Torque","rpm":2.889,"value":556},{"run":"3psi","measure":"Torque","rpm":2.92,"value":575},{"run":"3psi","measure":"Torque","rpm":2.95,"value":590},{"run":"3psi","measure":"Torque","rpm":2.97,"value":598},{"run":"3psi","measure":"Torque","rpm":2.99,"value":596},{"run":"3psi","measure":"Torque","rpm":3.01,"value":594},{"run":"3psi","measure":"Torque","rpm":3.04,"value":589},{"run":"3psi","measure":"Torque","rpm":3.06,"value":584},{"run":"3psi","measure":"Torque","rpm":3.08,"value":582},{"run":"3psi","measure":"Torque","rpm":3.11,"value":584},{"run":"3psi","measure":"Torque","rpm":3.14,"value":581},{"run":"3psi","measure":"Torque","rpm":3.17,"value":579},{"run":"3psi","measure":"Torque","rpm":3.21,"value":576},{"run":"3psi","measure":"Torque","rpm":3.25,"value":574},{"run":"3psi","measure":"Torque","rpm":3.28,"value":573},{"run":"3psi","measure":"Torque","rpm":3.31,"value":572},{"run":"3psi","measure":"Torque","rpm":3.34,"value":569},{"run":"3psi","measure":"Torque","rpm":3.36,"value":567},{"run":"3psi","measure":"Torque","rpm":3.38,"value":562},{"run":"3psi","measure":"Torque","rpm":3.40,"value":557},{"run":"3psi","measure":"Torque","rpm":3.435,"value":552},{"run":"3psi","measure":"Torque","rpm":3.46,"value":553},{"run":"3psi","measure":"Torque","rpm":3.476,"value":555},{"run":"3psi","measure":"Torque","rpm":3.50,"value":561},{"run":"3psi","measure":"Torque","rpm":3.52,"value":567},{"run":"3psi","measure":"Torque","rpm":3.56,"value":574},{"run":"3psi","measure":"Torque","rpm":3.60,"value":575},{"run":"3psi","measure":"Torque","rpm":3.64,"value":576},{"run":"3psi","measure":"Torque","rpm":3.68,"value":579},{"run":"3psi","measure":"Torque","rpm":3.72,"value":582},{"run":"3psi","measure":"Torque","rpm":3.76,"value":590},{"run":"3psi","measure":"Torque","rpm":3.80,"value":598},{"run":"3psi","measure":"Torque","rpm":3.84,"value":601},{"run":"3psi","measure":"Torque","rpm":3.88,"value":602},{"run":"3psi","measure":"Torque","rpm":3.91,"value":601},{"run":"3psi","measure":"Torque","rpm":3.94,"value":598},{"run":"3psi","measure":"Torque","rpm":3.97,"value":595},{"run":"3psi","measure":"Torque","rpm":4.00,"value":594},{"run":"3psi","measure":"Torque","rpm":4.03,"value":596},{"run":"3psi","measure":"Torque","rpm":4.06,"value":597},{"run":"3psi","measure":"Torque","rpm":4.10,"value":599},{"run":"3psi","measure":"Torque","rpm":4.14,"value":601},{"run":"3psi","measure":"Torque","rpm":4.163,"value":602},{"run":"3psi","measure":"Torque","rpm":4.20,"value":601},{"run":"3psi","measure":"Torque","rpm":4.235,"value":601},{"run":"3psi","measure":"Torque","rpm":4.265,"value":601},{"run":"3psi","measure":"Torque","rpm":4.30,"value":607},{"run":"3psi","measure":"Torque","rpm":4.337,"value":612},{"run":"3psi","measure":"Torque","rpm":4.36,"value":613.3},{"run":"3psi","measure":"Torque","rpm":4.39,"value":612},{"run":"3psi","measure":"Torque","rpm":4.42,"value":608},{"run":"3psi","measure":"Torque","rpm":4.45,"value":603},{"run":"3psi","measure":"Torque","rpm":4.48,"value":598},{"run":"3psi","measure":"Torque","rpm":4.50,"value":595},{"run":"3psi","measure":"Torque","rpm":4.54,"value":595},{"run":"3psi","measure":"Torque","rpm":4.57,"value":595},{"run":"3psi","measure":"Torque","rpm":4.60,"value":590},{"run":"3psi","measure":"Torque","rpm":4.63,"value":586},{"run":"3psi","measure":"Torque","rpm":4.67,"value":582},{"run":"3psi","measure":"Torque","rpm":4.71,"value":577},{"run":"3psi","measure":"Torque","rpm":4.75,"value":572},{"run":"3psi","measure":"Torque","rpm":4.80,"value":567},{"run":"3psi","measure":"Torque","rpm":4.84,"value":564},{"run":"3psi","measure":"Torque","rpm":4.88,"value":562},{"run":"3psi","measure":"Torque","rpm":4.93,"value":562},{"run":"3psi","measure":"Torque","rpm":4.98,"value":562},{"run":"3psi","measure":"Torque","rpm":5.01,"value":559},{"run":"3psi","measure":"Torque","rpm":5.04,"value":555},{"run":"3psi","measure":"Torque","rpm":5.08,"value":549},{"run":"3psi","measure":"Torque","rpm":5.12,"value":543},{"run":"3psi","measure":"Torque","rpm":5.16,"value":535},{"run":"3psi","measure":"Torque","rpm":5.20,"value":528},{"run":"3psi","measure":"Torque","rpm":5.25,"value":524},{"run":"3psi","measure":"Torque","rpm":5.29,"value":521},{"run":"3psi","measure":"Torque","rpm":5.34,"value":515},{"run":"3psi","measure":"Torque","rpm":5.39,"value":509},{"run":"3psi","measure":"Torque","rpm":5.44,"value":504},{"run":"3psi","measure":"Torque","rpm":5.49,"value":499},{"run":"3psi","measure":"Torque","rpm":5.54,"value":496},{"run":"3psi","measure":"Torque","rpm":5.59,"value":492},{"run":"3psi","measure":"Torque","rpm":5.64,"value":488},{"run":"3psi","measure":"Torque","rpm":5.69,"value":484},{"run":"3psi","measure":"Torque","rpm":5.75,"value":480},{"run":"3psi","measure":"Torque","rpm":5.80,"value":475},{"run":"3psi","measure":"Torque","rpm":5.85,"value":468},{"run":"3psi","measure":"Torque","rpm":5.90,"value":462},{"run":"3psi","measure":"Torque","rpm":5.93,"value":454},{"run":"3psi","measure":"Torque","rpm":5.97,"value":445},{"run":"3psi","measure":"Torque","rpm":6.0,"value":437},{"run":"3psi","measure":"Torque","rpm":6.04,"value":442},{"run":"3psi","measure":"Torque","rpm":6.08,"value":447},{"run":"3psi","measure":"Torque","rpm":6.12,"value":443},{"run":"3psi","measure":"Torque","rpm":6.16,"value":439},{"run":"3psi","measure":"Torque","rpm":6.20,"value":435},{"run":"3psi","measure":"Torque","rpm":6.24,"value":432},{"run":"3psi","measure":"Torque","rpm":6.28,"value":428},{"run":"3psi","measure":"Torque","rpm":6.33,"value":425},{"run":"3psi","measure":"Torque","rpm":6.37,"value":421},{"run":"3psi","measure":"Torque","rpm":6.41,"value":417},{"run":"3psi","measure":"Torque","rpm":6.45,"value":416},{"run":"3psi","measure":"Torque","rpm":6.49,"value":415},{"run":"3psi","measure":"Torque","rpm":6.53,"value":412},{"run":"3psi","measure":"Torque","rpm":6.57,"value":410},{"run":"3psi","measure":"Torque","rpm":6.61,"value":407},{"run":"3psi","measure":"Torque","rpm":6.65,"value":405},{"run":"3psi","measure":"Torque","rpm":6.70,"value":401},{"run":"3psi","measure":"Torque","rpm":6.74,"value":398},{"run":"3psi","measure":"Torque","rpm":6.78,"value":394},{"run":"3psi","measure":"Torque","rpm":6.82,"value":391},{"run":"3psi","measure":"Torque","rpm":6.86,"value":386},{"run":"3psi","measure":"Torque","rpm":6.90,"value":381},{"run":"3psi","measure":"Torque","rpm":6.94,"value":371},{"run":"3psi","measure":"Torque","rpm":6.955,"value":350},{"run":"3psi","measure":"Torque","rpm":6.965,"value":200},{"run":"3psi","measure":"Torque","rpm":6.97,"value":30}
]
},
"layer":[
{"data":{"name":"curves"},
 "transform":[{"filter":"datum.measure === 'Power'"},{"calculate":"datum.run + ' ' + datum.measure","as":"key"}],
 "mark":{"type":"line","strokeWidth":1.3},
 "encoding":{
  "x":{"field":"rpm","type":"quantitative","scale":{"domain":[1.93,7.465],"nice":false,"zero":false},
   "axis":{"values":[2.0,2.1,2.2,2.3,2.4,2.5,2.6,2.7,2.8,2.9,3.0,3.1,3.2,3.3,3.4,3.5,3.6,3.7,3.8,3.9,4.0,4.1,4.2,4.3,4.4,4.5,4.6,4.7,4.8,4.9,5.0,5.1,5.2,5.3,5.4,5.5,5.6,5.7,5.8,5.9,6.0,6.1,6.2,6.3,6.4,6.5,6.6,6.7,6.8,6.9,7.0,7.1,7.2,7.3,7.4],
    "labelExpr":"abs(datum.value*2-round(datum.value*2))<0.001 ? format(datum.value,'.1f') : ''",
    "labelOverlap":false,"labelFlush":false,
    "tickSize":-4,"tickColor":"#000","domainColor":"#000","labelColor":"#000","labelFont":"Liberation Sans","labelFontSize":10,"labelPadding":12,
    "grid":true,"gridColor":"#9c9c9c","gridDash":[3,3],
    "gridOpacity":{"condition":{"test":"abs(datum.value*2-round(datum.value*2))<0.001","value":1},"value":0},
    "title":["Engine RPM (rpmx1000)","www.burgertuning.com"],"titleFont":"Liberation Sans","titleFontSize":10,"titleFontWeight":"normal","titleColor":"#000","titleLineHeight":16,"titlePadding":2}},
  "y":{"field":"value","type":"quantitative","scale":{"domain":[0,672],"nice":false,"zero":false},
   "axis":{"values":[0,10,20,30,40,50,60,70,80,90,100,110,120,130,140,150,160,170,180,190,200,210,220,230,240,250,260,270,280,290,300,310,320,330,340,350,360,370,380,390,400,410,420,430,440,450,460,470,480,490,500,510,520,530,540,550,560,570,580,590,600,610,620,630,640,650,660,670],
    "labelExpr":"datum.value % 50 === 0 ? datum.label : ''",
    "labelOverlap":false,"labelFlush":false,
    "tickSize":{"condition":{"test":"datum.value % 50 === 0","value":5},"value":-3},
    "tickColor":"#000","domainColor":"#000","labelColor":"#000","labelFont":"Liberation Sans","labelFontSize":10,"labelPadding":1,
    "grid":true,"gridColor":"#9c9c9c","gridDash":[3,3],
    "gridOpacity":{"condition":{"test":"datum.value % 50 === 0","value":1},"value":0},
    "title":"Power (hp)","titleFont":"Liberation Sans","titleFontSize":10,"titleFontWeight":"normal","titleColor":"#000","titlePadding":3}},
  "color":{"field":"key","type":"nominal","legend":null,"scale":{"domain":["BASELINE Power","BASELINE Torque","2psi Power","2psi Torque","3psi Power","3psi Torque"],"range":["#c41616","#f07a7a","#0c0c86","#7878d6","#1f9a1f","#7cc77c"]}}}},
{"data":{"name":"curves"},
 "transform":[{"filter":"datum.measure === 'Torque'"},{"calculate":"datum.run + ' ' + datum.measure","as":"key"}],
 "mark":{"type":"line","strokeWidth":1},
 "encoding":{
  "x":{"field":"rpm","type":"quantitative","scale":{"domain":[1.93,7.465],"nice":false,"zero":false},"axis":null},
  "y":{"field":"value","type":"quantitative","scale":{"domain":[0,672],"nice":false,"zero":false},
   "axis":{"orient":"right","values":[0,10,20,30,40,50,60,70,80,90,100,110,120,130,140,150,160,170,180,190,200,210,220,230,240,250,260,270,280,290,300,310,320,330,340,350,360,370,380,390,400,410,420,430,440,450,460,470,480,490,500,510,520,530,540,550,560,570,580,590,600,610,620,630,640,650,660,670],
    "labelExpr":"datum.value % 50 === 0 ? datum.label : ''",
    "labelOverlap":false,"labelFlush":false,
    "tickSize":{"condition":{"test":"datum.value % 50 === 0","value":6},"value":-3},
    "tickColor":"#000","domainColor":"#000","labelColor":"#000","labelFont":"Liberation Sans","labelFontSize":10,"labelPadding":2,
    "grid":false,
    "title":"Torque (ft-lbs)","titleFont":"Liberation Sans","titleFontSize":10,"titleFontWeight":"normal","titleColor":"#000","titlePadding":3}},
  "color":{"field":"key","type":"nominal","legend":null,"scale":{"domain":["BASELINE Power","BASELINE Torque","2psi Power","2psi Torque","3psi Power","3psi Torque"],"range":["#c41616","#f07a7a","#0c0c86","#7878d6","#1f9a1f","#7cc77c"]}}}},
{"layer":[
{"data":{"values":[{}]},
 "mark":{"type":"rect","color":"#6e6e6e"},
 "encoding":{
  "x":{"datum":1.95,"type":"quantitative","scale":{"domain":[1.93,7.465],"nice":false,"zero":false},"axis":null},
  "x2":{"datum":7.496},
  "y":{"datum":-6,"type":"quantitative","scale":{"domain":[0,672],"nice":false,"zero":false},"axis":null},
  "y2":{"datum":0}}},
{"data":{"values":[{}]},
 "mark":{"type":"rect","color":"#6e6e6e"},
 "encoding":{
  "x":{"datum":7.465,"type":"quantitative","scale":{"domain":[1.93,7.465],"nice":false,"zero":false},"axis":null},
  "x2":{"datum":7.496},
  "y":{"datum":-6,"type":"quantitative","scale":{"domain":[0,672],"nice":false,"zero":false},"axis":null},
  "y2":{"datum":667}}},
{"data":{"name":"headings"},
 "transform":[{"filter":"datum.part === 'title'"}],
 "mark":{"type":"text","align":"center","baseline":"middle","font":"Liberation Sans","fontSize":15,"color":"#000"},
 "encoding":{
  "x":{"datum":4.713,"type":"quantitative","scale":{"domain":[1.93,7.465],"nice":false,"zero":false},"axis":null},
  "y":{"datum":709,"type":"quantitative","scale":{"domain":[0,672],"nice":false,"zero":false},"axis":null},
  "text":{"field":"label"}}},
{"data":{"name":"headings"},
 "transform":[{"filter":"datum.part === 'subtitle'"}],
 "mark":{"type":"text","align":"center","baseline":"middle","font":"Liberation Sans","fontSize":9.5,"color":"#000"},
 "encoding":{
  "x":{"datum":4.713,"type":"quantitative","scale":{"domain":[1.93,7.465],"nice":false,"zero":false},"axis":null},
  "y":{"datum":689,"type":"quantitative","scale":{"domain":[0,672],"nice":false,"zero":false},"axis":null},
  "text":{"field":"label"}}},
{"data":{"name":"headings"},
 "transform":[{"filter":"datum.part === 'corner'"}],
 "mark":{"type":"text","align":"right","baseline":"middle","font":"Liberation Sans","fontSize":15,"color":"#000"},
 "encoding":{
  "x":{"datum":7.69,"type":"quantitative","scale":{"domain":[1.93,7.465],"nice":false,"zero":false},"axis":null},
  "y":{"datum":709,"type":"quantitative","scale":{"domain":[0,672],"nice":false,"zero":false},"axis":null},
  "text":{"field":"label"}}},
{"data":{"values":[{}]},
 "mark":{"type":"text","align":"right","baseline":"middle","font":"Liberation Sans","fontSize":21,"fontStyle":"italic","fontWeight":"bold","color":"#d49696","opacity":0.8,"text":"Dyno"},
 "encoding":{
  "x":{"datum":7.134,"type":"quantitative","scale":{"domain":[1.93,7.465],"nice":false,"zero":false},"axis":null},
  "y":{"datum":16,"type":"quantitative","scale":{"domain":[0,672],"nice":false,"zero":false},"axis":null}}},
{"data":{"values":[{}]},
 "mark":{"type":"text","align":"left","baseline":"middle","font":"Liberation Sans","fontSize":21,"fontStyle":"italic","fontWeight":"bold","color":"#bcbcbc","opacity":0.9,"text":"jet"},
 "encoding":{
  "x":{"datum":7.134,"type":"quantitative","scale":{"domain":[1.93,7.465],"nice":false,"zero":false},"axis":null},
  "y":{"datum":16,"type":"quantitative","scale":{"domain":[0,672],"nice":false,"zero":false},"axis":null}}},
{"data":{"values":[{}]},
 "mark":{"type":"rect","color":"#8a8a8a"},
 "encoding":{
  "x":{"datum":3.44,"type":"quantitative","scale":{"domain":[1.93,7.465],"nice":false,"zero":false},"axis":null},
  "x2":{"datum":6.97},
  "y":{"datum":146,"type":"quantitative","scale":{"domain":[0,672],"nice":false,"zero":false},"axis":null},
  "y2":{"datum":198}}},
{"data":{"values":[{}]},
 "mark":{"type":"rect","fill":"#ffffff","stroke":"#000","strokeWidth":1},
 "encoding":{
  "x":{"datum":3.415,"type":"quantitative","scale":{"domain":[1.93,7.465],"nice":false,"zero":false},"axis":null},
  "x2":{"datum":6.945},
  "y":{"datum":152.5,"type":"quantitative","scale":{"domain":[0,672],"nice":false,"zero":false},"axis":null},
  "y2":{"datum":204.1}}},
{"data":{"name":"legend"},
 "transform":[{"calculate":"195.5 - (datum.slot - 1) * 17.6","as":"ly"},{"calculate":"datum.run + ' Power'","as":"pkey"},{"calculate":"datum.run + ' Torque'","as":"tkey"}],
 "layer":[
  {"mark":{"type":"text","align":"left","baseline":"middle","font":"Liberation Sans","fontSize":9.6,"color":"#000"},
   "encoding":{"x":{"datum":3.44,"type":"quantitative","scale":{"domain":[1.93,7.465],"nice":false,"zero":false},"axis":null},
    "y":{"field":"ly","type":"quantitative","scale":{"domain":[0,672],"nice":false,"zero":false},"axis":null},
    "text":{"field":"file"}}},
  {"mark":{"type":"text","align":"left","baseline":"middle","font":"Liberation Sans","fontSize":9.6,"color":"#000"},
   "encoding":{"x":{"datum":4.427,"type":"quantitative","scale":{"domain":[1.93,7.465],"nice":false,"zero":false},"axis":null},
    "y":{"field":"ly","type":"quantitative","scale":{"domain":[0,672],"nice":false,"zero":false},"axis":null},
    "text":{"field":"powerText"}}},
  {"mark":{"type":"text","align":"left","baseline":"middle","font":"Liberation Sans","fontSize":9.6,"color":"#000"},
   "encoding":{"x":{"datum":5.722,"type":"quantitative","scale":{"domain":[1.93,7.465],"nice":false,"zero":false},"axis":null},
    "y":{"field":"ly","type":"quantitative","scale":{"domain":[0,672],"nice":false,"zero":false},"axis":null},
    "text":{"field":"torqueText"}}},
  {"mark":{"type":"point","shape":"square","size":120,"filled":true,"fill":"#ffffff","strokeWidth":1,"opacity":1},
   "encoding":{"x":{"datum":4.36,"type":"quantitative","scale":{"domain":[1.93,7.465],"nice":false,"zero":false},"axis":null},
    "y":{"field":"ly","type":"quantitative","scale":{"domain":[0,672],"nice":false,"zero":false},"axis":null},
    "stroke":{"field":"pkey","type":"nominal","legend":null,"scale":{"domain":["BASELINE Power","BASELINE Torque","2psi Power","2psi Torque","3psi Power","3psi Torque"],"range":["#c41616","#f07a7a","#0c0c86","#7878d6","#1f9a1f","#7cc77c"]}}}},
  {"mark":{"type":"point","shape":"square","size":22,"filled":true,"opacity":1},
   "encoding":{"x":{"datum":4.36,"type":"quantitative","scale":{"domain":[1.93,7.465],"nice":false,"zero":false},"axis":null},
    "y":{"field":"ly","type":"quantitative","scale":{"domain":[0,672],"nice":false,"zero":false},"axis":null},
    "color":{"field":"pkey","type":"nominal","legend":null,"scale":{"domain":["BASELINE Power","BASELINE Torque","2psi Power","2psi Torque","3psi Power","3psi Torque"],"range":["#c41616","#f07a7a","#0c0c86","#7878d6","#1f9a1f","#7cc77c"]}}}},
  {"mark":{"type":"point","shape":"square","size":120,"filled":true,"fill":"#ffffff","strokeWidth":1,"opacity":1},
   "encoding":{"x":{"datum":5.661,"type":"quantitative","scale":{"domain":[1.93,7.465],"nice":false,"zero":false},"axis":null},
    "y":{"field":"ly","type":"quantitative","scale":{"domain":[0,672],"nice":false,"zero":false},"axis":null},
    "stroke":{"field":"tkey","type":"nominal","legend":null,"scale":{"domain":["BASELINE Power","BASELINE Torque","2psi Power","2psi Torque","3psi Power","3psi Torque"],"range":["#c41616","#f07a7a","#0c0c86","#7878d6","#1f9a1f","#7cc77c"]}}}},
  {"mark":{"type":"point","shape":"square","size":22,"filled":true,"opacity":1},
   "encoding":{"x":{"datum":5.661,"type":"quantitative","scale":{"domain":[1.93,7.465],"nice":false,"zero":false},"axis":null},
    "y":{"field":"ly","type":"quantitative","scale":{"domain":[0,672],"nice":false,"zero":false},"axis":null},
    "color":{"field":"tkey","type":"nominal","legend":null,"scale":{"domain":["BASELINE Power","BASELINE Torque","2psi Power","2psi Torque","3psi Power","3psi Torque"],"range":["#c41616","#f07a7a","#0c0c86","#7878d6","#1f9a1f","#7cc77c"]}}}}
 ]}
]}
],
"resolve":{"scale":{"x":"independent","y":"independent"}}
}
